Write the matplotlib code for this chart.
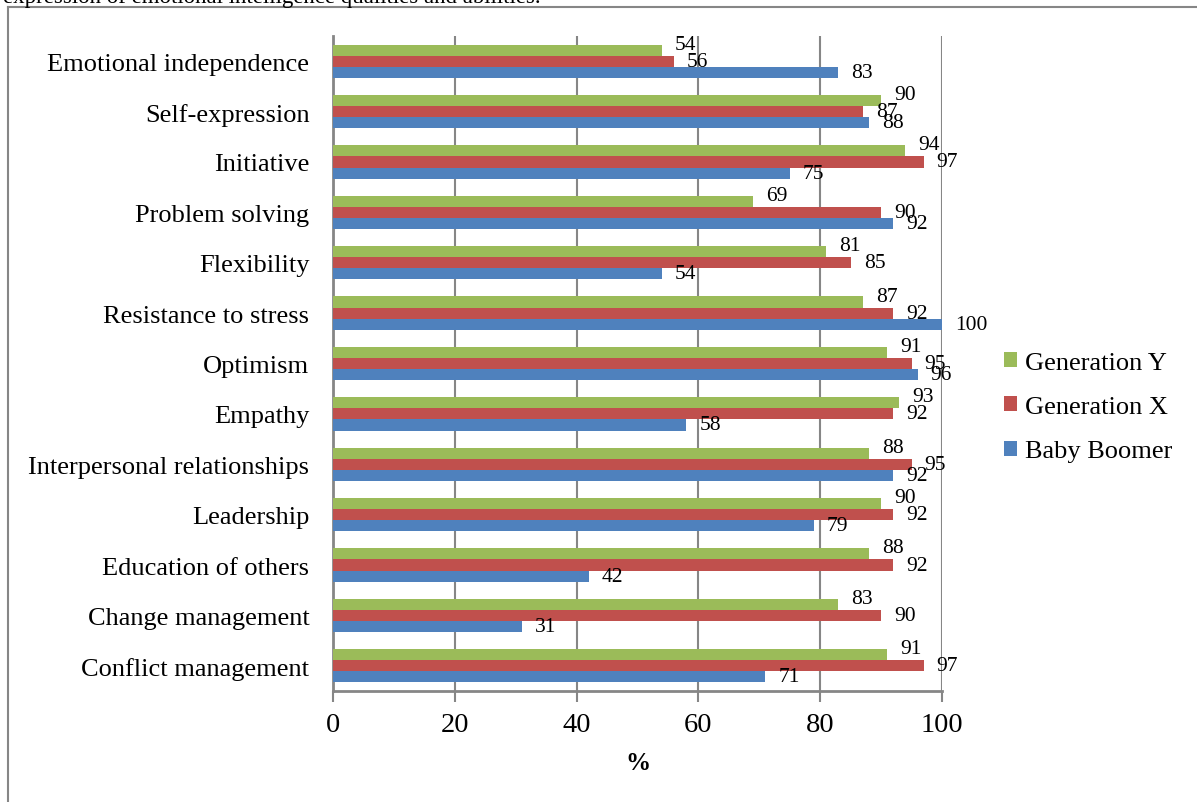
import matplotlib
matplotlib.use("Agg")
import matplotlib.pyplot as plt
from matplotlib.patches import Patch
from matplotlib.lines import Line2D
import numpy as np

categories = ["Conflict management", "Change management", "Education of others",
              "Leadership", "Interpersonal relationships", "Empathy", "Optimism",
              "Resistance to stress", "Flexibility", "Problem solving", "Initiative",
              "Self-expression", "Emotional independence"]
baby_boomer = [71, 31, 42, 79, 92, 58, 96, 100, 54, 92, 75, 88, 83]
generation_x = [97, 90, 92, 92, 95, 92, 95, 92, 85, 90, 97, 87, 56]
generation_y = [91, 83, 88, 90, 88, 93, 91, 87, 81, 69, 94, 90, 54]
series_names = ["Baby Boomer", "Generation X", "Generation Y"]
x_ticks = [0, 20, 40, 60, 80, 100]

colors = {"Baby Boomer": "#4F81BD", "Generation X": "#C0504D", "Generation Y": "#9BBB59"}
serif = ["Liberation Serif", "DejaVu Serif"]
plt.rcParams["font.family"] = serif

W, H = 1197, 803
fig = plt.figure(figsize=(W / 100, H / 100), dpi=100)
ax = fig.add_axes([333 / W, 1 - 692 / H, (942 - 333) / W, (692 - 37) / H])

y = np.arange(len(categories))
h = 0.22
series = [baby_boomer, generation_x, generation_y]
offsets = [-h, 0, h]
for name, vals, off in zip(series_names, series, offsets):
    ax.barh(y + off, vals, height=h, color=colors[name], edgecolor="none", zorder=3)
    for yi, v in zip(y, vals):
        dy = 6 if name == "Generation Y" else 0
        ax.annotate(str(v), (v, yi + off), xytext=(13, dy), textcoords="offset pixels",
                    ha="left", va="center", fontsize=15.5, color="#000000", zorder=4)

ax.set_xlim(0, 100)
ax.set_ylim(-0.5, len(categories) - 0.5)
ax.set_xticks(x_ticks)
ax.set_xticklabels([str(t) for t in x_ticks], fontsize=20.5)
ax.set_yticks(y)
ax.set_yticklabels(categories, fontsize=19)
ax.tick_params(axis="y", length=0, pad=17)
ax.tick_params(axis="x", length=8, width=1.5, color="#868686", pad=7, direction="out")
ax.xaxis.grid(True, color="#868686", linewidth=1.5, zorder=1)
ax.set_axisbelow(True)
for s in ["top", "right"]:
    ax.spines[s].set_visible(False)
for s in ["left", "bottom"]:
    ax.spines[s].set_color("#868686")
    ax.spines[s].set_linewidth(2)
ax.set_xlabel("%", fontsize=18, fontweight="bold", labelpad=10)

handles = [Patch(facecolor=colors[n]) for n in ["Generation Y", "Generation X", "Baby Boomer"]]
fig.legend(handles, ["Generation Y", "Generation X", "Baby Boomer"],
           loc="center left", bbox_to_anchor=(991 / W, 1 - 408 / H), frameon=False,
           fontsize=19, handlelength=0.5, handleheight=0.5, handletextpad=0.3,
           labelspacing=0.85, borderpad=0)

# outer frame
fig.add_artist(Line2D([8 / W, 8 / W], [0, 1 - 8 / H], color="#868686", linewidth=1.5))
fig.add_artist(Line2D([8 / W, 1], [1 - 8 / H, 1 - 8 / H], color="#868686", linewidth=1.5))
fig.text(3 / W, 1 - 3 / H, "expression of emotional intelligence qualities and abilities.",
         fontsize=16.5, va="baseline", ha="left")

fig.savefig("out.png", dpi=100)
